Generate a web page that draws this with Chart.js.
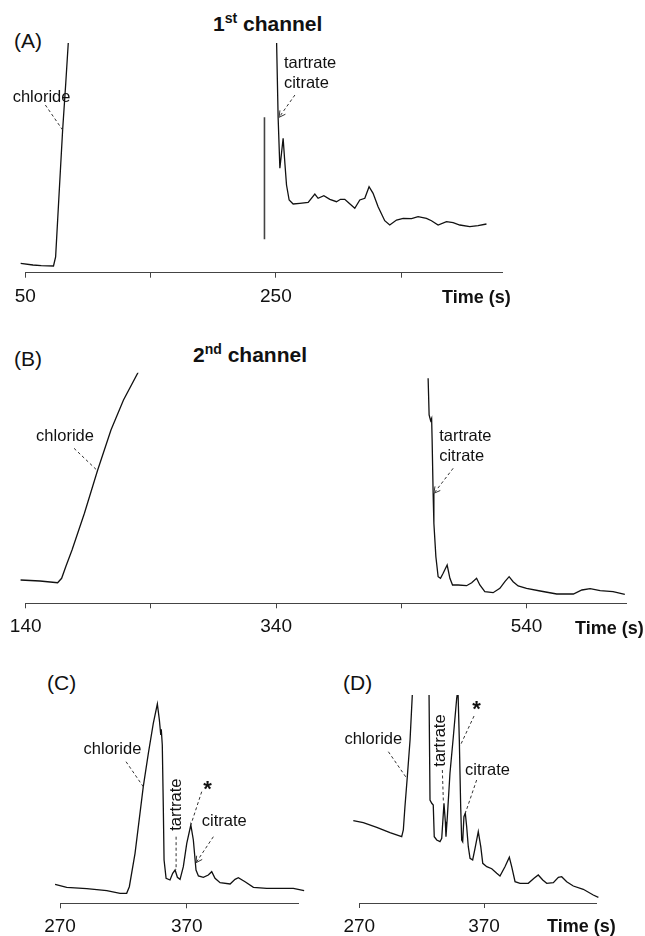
<!DOCTYPE html>
<html>
<head>
<meta charset="utf-8">
<script src="https://cdn.jsdelivr.net/npm/chart.js@4.4.0/dist/chart.umd.min.js"></script>
<style>
  body { margin: 0; background: #fff; }
  #page { position: relative; width: 645px; height: 936px; background: #fff; font-family: "Liberation Sans", Arial, Helvetica, sans-serif; color: #111; }
  canvas { position: absolute; }
  .txt { position: absolute; white-space: nowrap; line-height: 1; }
  .panel { font-size: 21px; }
  .head { font-size: 21px; font-weight: bold; }
  .head sup { font-size: 14px; vertical-align: 0; position: relative; top: -8px; }
  .unit { font-size: 18px; font-weight: bold; }
</style>
</head>
<body>
<div id="page">
  <div class="txt panel" style="left:14px; top:30px;">(A)</div>
  <div class="txt head" style="left:213px; top:13px;">1<sup>st</sup> channel</div>
  <canvas id="chart-a" width="645" height="310" style="left:0; top:0; width:645px; height:310px;"></canvas>
  <div class="txt unit" style="left:442px; top:288px;">Time (s)</div>

  <div class="txt panel" style="left:14px; top:348px;">(B)</div>
  <div class="txt head" style="left:193px; top:344px;">2<sup>nd</sup> channel</div>
  <canvas id="chart-b" width="645" height="330" style="left:0; top:310px; width:645px; height:330px;"></canvas>
  <div class="txt unit" style="left:575px; top:619px;">Time (s)</div>

  <div class="txt panel" style="left:47px; top:672px;">(C)</div>
  <canvas id="chart-c" width="322" height="296" style="left:0; top:640px; width:322px; height:296px;"></canvas>

  <div class="txt panel" style="left:343px; top:672px;">(D)</div>
  <canvas id="chart-d" width="323" height="296" style="left:322px; top:640px; width:323px; height:296px;"></canvas>
  <div class="txt unit" style="left:547px; top:917px;">Time (s)</div>
</div>

<script>
// Panel A - 1st channel (null = trace off scale between the two zones)
const aTime = [46.3, 56.1, 62.7, 72.5, 74.2, 76.7, 79.8, 82.3, 84.3, 85, 160,
    250.3, 250.6, 251.8, 253.2, 254.5, 255.8, 257.2, 258.5, 260.6, 263.8, 269.1, 275.8, 281.1, 283.7,
    288.3, 293.1, 298.4, 301.6, 305, 308.5, 313, 317, 321, 324.4, 327.6, 331.6, 336.9, 340.9,
    346.3, 351.6, 358.3, 363.5, 370.2, 374.2, 379.5, 386.2, 391.5, 396.8, 404.8, 411.4, 418.1];
const aSignal = [9.4, 7.7, 7, 6.7, 15.7, 72.7, 142.7, 189.7, 229.7, 245, null,
    245, 229.4, 155.4, 104.4, 119.4, 134.4, 109.4, 87.7, 72.7, 68.7, 69.4, 70.4, 78.7, 74.4,
    77, 73.4, 71, 73.4, 73.4, 69.4, 64.4, 72.7, 74.4, 86, 79.4, 66, 52, 47.7,
    52.7, 54.4, 54, 56, 54.4, 52, 47.7, 51, 50, 47.7, 46, 47, 48.7];
const aMarkerTime = [240.9, 240.9];
const aMarkerSignal = [33.4, 155.4];
const aTicks = [50, 150, 250, 350];
const aTickLabels = [50, 250];

// Panel B - 2nd channel
const bTime = [135.9, 151.4, 165.5, 168.7, 172.2, 177, 186.9, 197.3, 208.1, 218.1, 229.6, 231, 300,
    461.4, 462.2, 463.4, 464.2, 464.6, 465.4, 466, 467.6, 469.4, 471.3, 473.4, 476.6, 478.8,
    480.9, 485.4, 492.1, 496.2, 500.1, 502.7, 506.7, 513.3, 518.7, 522.7, 526.1, 529.3, 533.3,
    540, 550.9, 564.1, 577.4, 584.2, 590.8, 598.8, 609.1, 618.5];
const bSignal = [23.3, 22.3, 20.6, 25, 37.3, 53.3, 90, 132.6, 173.3, 203.3, 230.6, 245, null,
    225, 188.3, 182.6, 185, 163.3, 110, 80, 46.6, 26.6, 25, 30, 38.3, 25,
    18.3, 18.3, 17.6, 20.6, 25, 18.3, 11.6, 10.6, 15, 21.6, 26.6, 21.6, 17.3,
    15, 12.3, 9.3, 9.3, 13.3, 14.6, 12.6, 11.6, 9];
const bTicks = [140, 240, 340, 440, 540];
const bTickLabels = [140, 340, 540];

// Panel C
const cTime = [266.1, 275.3, 291.1, 306.9, 317.4, 322.6, 324.7, 329.2, 335.7, 339.7, 343.6, 346.8,
    348.4, 349.5, 349.9, 350.7, 351.5, 352.1, 353.7, 356.8, 358.9, 360.8, 362.6, 364.7, 367.3,
    370, 373.2, 375.2, 377.3, 379.2, 383.1, 387, 389.7, 392.3, 396.3, 404.2, 408.1, 410.7,
    416, 422.6, 433.1, 446.2, 454.1, 462.6];
const cSignal = [19, 16, 14.6, 12.6, 10, 10, 16.6, 50, 116.6, 150, 180, 199.3,
    183.3, 168.3, 174, 158.3, 96.6, 43.3, 25, 23.3, 30, 33.3, 26, 24, 36.6,
    60, 78.3, 63.3, 33.3, 27.3, 26, 28.3, 31.6, 25, 20.6, 19.3, 24, 25.6,
    21.6, 16, 15, 15, 15, 12.6];

// Panel D
const dTime = [265.2, 273.2, 284, 294.6, 304, 305.3, 306.6, 308.5, 310.7, 312.5, 314, 319, 325.7,
    326.7, 328.1, 329.3, 330.1, 332.1, 334.7, 336.1, 337.9, 339, 339.5, 340.6, 342.7, 345.4,
    348.1, 349.1, 350.2, 351.3, 352.1, 352.9, 353.9, 355, 356.1, 357.4, 358.8, 360.9, 362.8,
    365.4, 367.4, 369, 372.2, 376.2, 380.2, 382.8, 386.8, 390.3, 392.2, 394.9, 398.9, 405.5,
    410.1, 413.5, 417.1, 420.3, 425.6, 429.6, 432.3, 436.3, 441.6, 449.6, 457.6, 461.7, 465.2];
const dSignal = [82.3, 80.3, 75.7, 70.3, 66.3, 73, 96.3, 126.3, 163, 208, 250, 320, 240,
    103, 99.7, 98, 66.3, 63, 61.3, 64.7, 99.7, 81.3, 66.3, 86.3, 129.7, 166.3,
    204.7, 214, 163, 96.3, 63, 61.3, 86.3, 89.7, 76.3, 56.3, 44.7, 43, 54.7,
    71.3, 56.3, 39.7, 36.3, 34.3, 29.7, 27, 36.3, 45.7, 36.3, 21.3, 19.7, 19.7,
    24.7, 28, 23, 19.7, 20.3, 25.7, 26.3, 21.3, 17, 13.7, 8, 5.7, 5.7];
const cdTicks = [270, 370];
const cdTickLabels = [270, 370];

const FONT = '"Liberation Sans", Arial, Helvetica, sans-serif';

function toPoints(xs, ys) {
    return xs.map((x, i) => ({ x: x, y: ys[i] }));
}

// draws peak names and dashed leader lines in data coordinates
const peakLabels = {
    id: 'peakLabels',
    afterDatasetsDraw(chart, args, opts) {
        const ctx = chart.ctx;
        const xs = chart.scales.x;
        const ys = chart.scales.y;
        ctx.save();
        (opts.items || []).forEach(item => {
            if (item.line) {
                const x1 = xs.getPixelForValue(item.line[0][0]);
                const y1 = ys.getPixelForValue(item.line[0][1]);
                const x2 = xs.getPixelForValue(item.line[1][0]);
                const y2 = ys.getPixelForValue(item.line[1][1]);
                ctx.strokeStyle = '#333';
                ctx.lineWidth = 1;
                ctx.setLineDash([3, 2.5]);
                ctx.beginPath();
                ctx.moveTo(x1, y1);
                ctx.lineTo(x2, y2);
                ctx.stroke();
                if (item.arrow) {
                    const ang = Math.atan2(y2 - y1, x2 - x1);
                    ctx.setLineDash([]);
                    ctx.beginPath();
                    ctx.moveTo(x2 - 7 * Math.cos(ang - 0.5), y2 - 7 * Math.sin(ang - 0.5));
                    ctx.lineTo(x2, y2);
                    ctx.lineTo(x2 - 7 * Math.cos(ang + 0.5), y2 - 7 * Math.sin(ang + 0.5));
                    ctx.stroke();
                }
            } else {
                const px = xs.getPixelForValue(item.x);
                const py = ys.getPixelForValue(item.y) + (item.dy || 0);
                const size = item.size || 16.5;
                ctx.font = (item.bold ? 'bold ' : '') + size + 'px ' + FONT;
                ctx.fillStyle = '#111';
                ctx.textAlign = item.align || 'center';
                ctx.textBaseline = 'middle';
                ctx.translate(px, py);
                if (item.rotate) ctx.rotate(-Math.PI / 2);
                ctx.fillText(item.text, 0, 0);
                ctx.setTransform(1, 0, 0, 1, 0, 0);
            }
        });
        ctx.restore();
    }
};

function buildChart(id, cfg) {
    const ctx = document.getElementById(id).getContext('2d');
    const datasets = cfg.series.map(s => ({
        data: toPoints(s.time, s.signal),
        borderColor: s.color || '#111',
        borderWidth: s.width || 1.3,
        pointRadius: 0,
        tension: 0,
        spanGaps: false,
        clip: { left: 8, top: 0, right: 8, bottom: false }
    }));
    return new Chart(ctx, {
        type: 'line',
        data: { datasets: datasets },
        options: {
            responsive: false,
            animation: false,
            events: [],
            layout: { padding: cfg.padding },
            plugins: {
                legend: { display: false },
                tooltip: { enabled: false },
                peakLabels: { items: cfg.labels }
            },
            scales: {
                x: {
                    type: 'linear',
                    min: cfg.min,
                    max: cfg.max,
                    afterBuildTicks: axis => { axis.ticks = cfg.ticks.map(v => ({ value: v })); },
                    afterFit: axis => { axis.height = cfg.axisHeight; },
                    border: { display: true, color: '#444', width: 1 },
                    grid: { drawOnChartArea: false, drawTicks: true, tickLength: 5, tickColor: '#444', tickWidth: 1 },
                    ticks: {
                        autoSkip: false,
                        maxRotation: 0,
                        padding: 7.3,
                        color: '#111',
                        font: { family: FONT, size: 19 },
                        callback: v => cfg.tickLabels.includes(v) ? String(v) : ''
                    }
                },
                y: { display: false, min: 0, max: cfg.top }
            }
        },
        plugins: [peakLabels]
    });
}

buildChart('chart-a', {
    series: [
        { time: aTime, signal: aSignal },
        { time: aMarkerTime, signal: aMarkerSignal, color: '#444', width: 1.6 }
    ],
    min: 50, max: 430.5, top: 229.7,
    ticks: aTicks, tickLabels: aTickLabels,
    padding: { left: 25.3, right: 143, top: 43, bottom: 0 },
    axisHeight: 37.3,
    labels: [
        { text: 'chloride', x: 63, y: 175.4 },
        { line: [[66, 167.7], [79.8, 142.7]] },
        { text: 'tartrate', x: 256.4, y: 209.4, align: 'left' },
        { text: 'citrate', x: 256.4, y: 189.4, align: 'left' },
        { line: [[265.2, 177.7], [252.6, 155.4]], arrow: true }
    ]
});

buildChart('chart-b', {
    series: [{ time: bTime, signal: bSignal }],
    min: 140, max: 620, top: 230.6,
    ticks: bTicks, tickLabels: bTickLabels,
    padding: { left: 25.7, right: 18.3, top: 62.7, bottom: 0 },
    axisHeight: 36.7,
    labels: [
        { text: 'chloride', x: 171.4, y: 166.6 },
        { line: [[178.6, 155], [197.3, 132.6]] },
        { text: 'tartrate', x: 470.2, y: 166.6, align: 'left' },
        { text: 'citrate', x: 470.2, y: 146.6, align: 'left' },
        { line: [[481.4, 135], [466, 110]], arrow: true }
    ]
});

buildChart('chart-c', {
    series: [{ time: cTime, signal: cSignal }],
    min: 270, max: 458, top: 203.3,
    ticks: cdTicks, tickLabels: cdTickLabels,
    padding: { left: 60, right: 23.7, top: 60, bottom: 0 },
    axisHeight: 32.7,
    labels: [
        { text: 'chloride', x: 311.4, y: 154 },
        { line: [[322.1, 141.6], [335.7, 116.6]] },
        { text: 'tartrate', x: 362.1, y: 98.6, rotate: true },
        { line: [[361.6, 66.6], [361.6, 33.3]] },
        { text: '*', x: 386.3, y: 118.3, bold: true, size: 22, dy: 5 },
        { line: [[381.8, 111.6], [373.2, 78.3]] },
        { text: 'citrate', x: 399.6, y: 82.3 },
        { line: [[391, 66.6], [377.3, 40.6]], arrow: true }
    ]
});

buildChart('chart-d', {
    series: [{ time: dTime, signal: dSignal }],
    min: 270, max: 459.8, top: 208,
    ticks: cdTicks, tickLabels: cdTickLabels,
    padding: { left: 37.3, right: 49, top: 55, bottom: 0 },
    axisHeight: 33,
    labels: [
        { text: 'chloride', x: 281.2, y: 163.7 },
        { line: [[293.3, 151.3], [307.5, 125.7]] },
        { text: 'tartrate', x: 335.1, y: 162.5, rotate: true },
        { line: [[336.6, 133], [337.4, 101.3]] },
        { text: '*', x: 364.1, y: 198, bold: true, size: 22, dy: 5 },
        { line: [[362, 187], [350.8, 157]] },
        { text: 'citrate', x: 372.8, y: 133 },
        { line: [[364.1, 123], [355, 89.7]] }
    ]
});
</script>
</body>
</html>
